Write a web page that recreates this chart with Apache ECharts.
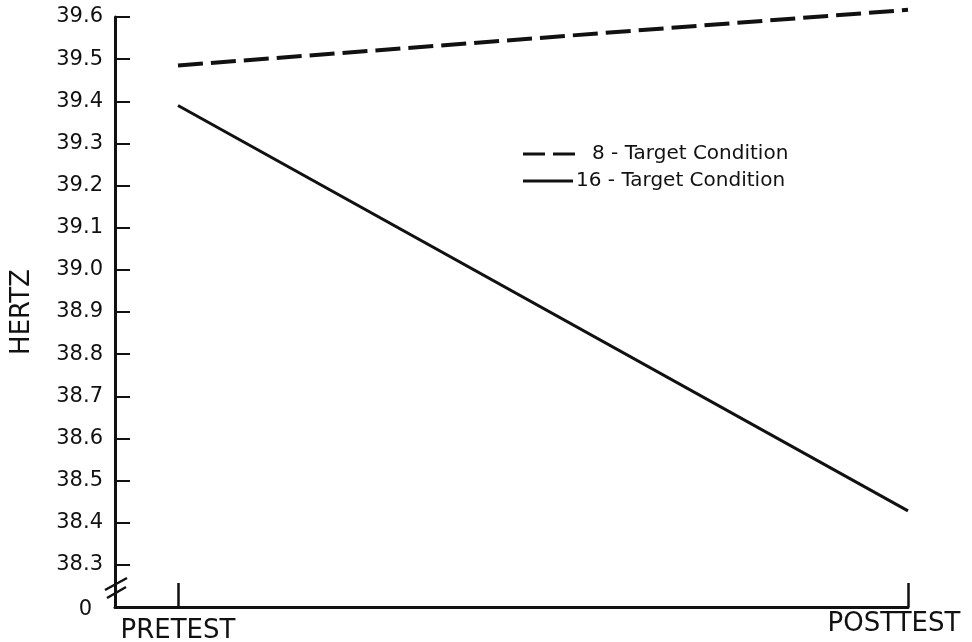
<!DOCTYPE html>
<html>
<head>
<meta charset="utf-8">
<script src="https://cdn.jsdelivr.net/npm/echarts@6/dist/echarts.min.js"></script>
<style>
  html, body { margin: 0; padding: 0; background: #fff; }
  #chart { width: 972px; height: 642px; }
</style>
</head>
<body>
<div id="chart"></div>
<script>
// data
const phases = ['PRETEST', 'POSTTEST']
const phaseX = [0, 1]
const target8 = [39.485, 39.617]
const target16 = [39.39, 38.428]
const yTicks = [38.3, 38.4, 38.5, 38.6, 38.7, 38.8, 38.9, 39.0, 39.1, 39.2, 39.3, 39.4, 39.5, 39.6]
const yBottom = 38.2
const names = ['8 - Target Condition', '16 - Target Condition']

const font = 'DejaVu Sans'
const ink = '#111'
const xMin = -0.0863

let chart = echarts.init(document.getElementById('chart'))

let legendText = { fontFamily: font, fontSize: 20, color: ink }

let option = {
  animation: false,
  backgroundColor: '#fff',
  grid: { left: 115, right: 64, top: 17, bottom: 35, containLabel: false, outerBoundsMode: 'none' },
  legend: [
    {
      left: 518, top: 139,
      itemWidth: 52, itemHeight: 3,
      textStyle: Object.assign({ padding: [0, 0, 0, 12] }, legendText),
      data: [{ name: names[0], icon: 'path://M0,0h22v3h-22z M30,0h22v3h-22z' }]
    },
    {
      left: 518, top: 166,
      itemWidth: 50, itemHeight: 3,
      textStyle: Object.assign({ padding: [0, 0, 0, -2] }, legendText),
      data: [{ name: names[1], icon: 'rect' }]
    }
  ],
  xAxis: {
    type: 'value',
    min: xMin,
    max: 1,
    splitLine: { show: false },
    axisLine: { onZero: false, lineStyle: { color: ink, width: 3 } },
    axisTick: { inside: true, length: 24, lineStyle: { color: ink, width: 2.5 }, customValues: phaseX },
    axisLabel: {
      customValues: phaseX,
      margin: 4,
      formatter: v => v === 0 ? '{pre|' + phases[0] + '}' : '{post|' + phases[1] + '}',
      rich: {
        pre: { fontFamily: font, fontSize: 26, color: ink, padding: [7, 0, 0, 0] },
        post: { fontFamily: font, fontSize: 26, color: ink, padding: [0, 28, 0, 0] }
      }
    }
  },
  yAxis: {
    type: 'value',
    min: yBottom,
    max: 39.6,
    name: 'HERTZ',
    nameLocation: 'middle',
    nameGap: 80,
    nameRotate: 90,
    nameTextStyle: { fontFamily: font, fontSize: 26, color: ink },
    splitLine: { show: false },
    axisLine: { onZero: false, lineStyle: { color: ink, width: 3 } },
    axisTick: { inside: true, length: 15, lineStyle: { color: ink, width: 2 }, customValues: yTicks },
    axisLabel: {
      customValues: [yBottom].concat(yTicks),
      margin: 12,
      formatter: v => Math.abs(v - yBottom) < 1e-6 ? '{zero|0}' : '{t|' + v.toFixed(1) + '}',
      rich: {
        t: { fontFamily: font, fontSize: 21, color: ink },
        zero: { fontFamily: font, fontSize: 21, color: ink, padding: [6, 11, 0, 0] }
      }
    }
  },
  series: [
    {
      name: names[0],
      type: 'line',
      symbol: 'none',
      clip: false,
      data: phaseX.map((x, i) => [x, target8[i]]),
      lineStyle: { color: ink, width: 4, type: [25, 8] },
      itemStyle: { color: ink }
    },
    {
      name: names[1],
      type: 'line',
      symbol: 'none',
      clip: false,
      data: phaseX.map((x, i) => [x, target16[i]]),
      lineStyle: { color: ink, width: 3, type: 'solid' },
      itemStyle: { color: ink }
    }
  ]
}
chart.setOption(option)

// axis break marks near the bottom of the y axis
const p = chart.convertToPixel({ gridIndex: 0 }, [xMin, yBottom])
const bx = p[0], by = p[1]
chart.setOption({
  graphic: [
    { type: 'line', shape: { x1: bx - 10, y1: by - 17, x2: bx + 12, y2: by - 29 }, style: { stroke: ink, lineWidth: 2.5 } },
    { type: 'line', shape: { x1: bx - 8, y1: by - 9, x2: bx + 11, y2: by - 20 }, style: { stroke: ink, lineWidth: 2.5 } }
  ]
})
</script>
</body>
</html>
